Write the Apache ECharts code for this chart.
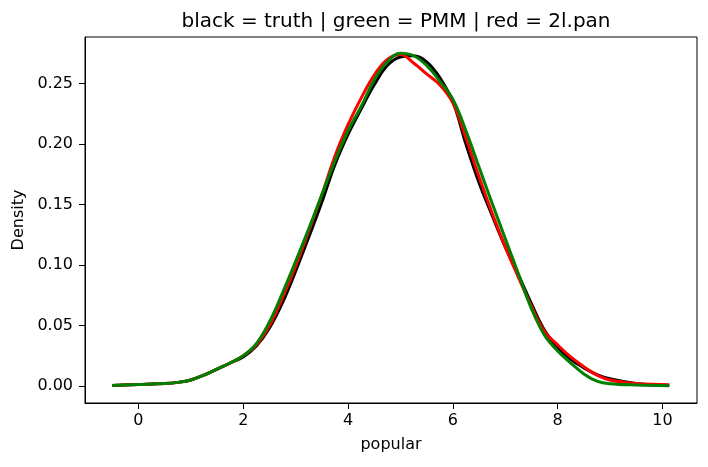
<!DOCTYPE html>
<html>
<head>
<meta charset="utf-8">
<script src="https://cdn.jsdelivr.net/npm/echarts@6/dist/echarts.min.js"></script>
<style>html,body{margin:0;padding:0;background:#fff}#c{width:708px;height:467px}</style>
</head>
<body>
<div id="c"></div>
<script>
const titleText = "black = truth | green = PMM | red = 2l.pan";
const xName = "popular";
const yName = "Density";
const xTicks = [0, 2, 4, 6, 8, 10];
const yTicks = [0, 0.05, 0.10, 0.15, 0.20, 0.25];

const xs = [-0.5, 0, 0.5, 0.75, 1.0, 1.25, 1.5, 1.75, 2.0, 2.25, 2.5, 2.75, 3.0, 3.25, 3.5, 3.75, 4.0, 4.25, 4.5, 4.75, 5.0, 5.25, 5.5, 5.75, 6.0, 6.25, 6.5, 6.75, 7.0, 7.25, 7.5, 7.75, 8.0, 8.25, 8.5, 8.75, 9.0, 9.5, 10.13];

const truth = [0.0005, 0.0012, 0.002, 0.003, 0.005, 0.009, 0.014, 0.019, 0.024, 0.033, 0.048, 0.069, 0.095, 0.123, 0.152, 0.183, 0.208, 0.229, 0.249, 0.265, 0.272, 0.273, 0.268, 0.255, 0.235, 0.200, 0.168, 0.141, 0.115, 0.092, 0.068, 0.046, 0.032, 0.022, 0.015, 0.0095, 0.006, 0.002, 0.0005];

const pmm = [0.0005, 0.0012, 0.002, 0.003, 0.005, 0.009, 0.014, 0.019, 0.025, 0.035, 0.053, 0.077, 0.103, 0.130, 0.158, 0.186, 0.211, 0.231, 0.253, 0.268, 0.275, 0.273, 0.265, 0.252, 0.237, 0.211, 0.181, 0.151, 0.122, 0.093, 0.064, 0.042, 0.029, 0.019, 0.010, 0.004, 0.0018, 0.0008, 0.0003];

const pan = [0.0005, 0.0012, 0.002, 0.003, 0.005, 0.009, 0.014, 0.019, 0.025, 0.034, 0.050, 0.073, 0.099, 0.128, 0.158, 0.190, 0.216, 0.238, 0.257, 0.270, 0.274, 0.267, 0.258, 0.249, 0.234, 0.205, 0.173, 0.143, 0.115, 0.090, 0.066, 0.045, 0.034, 0.024, 0.016, 0.009, 0.005, 0.002, 0.001];

const zip = ys => xs.map((x, i) => [x, ys[i]]);
const font = "DejaVu Sans";

const chart = echarts.init(document.getElementById('c'), null, {renderer: 'canvas'});
chart.setOption({
  animation: false,
  backgroundColor: '#fff',
  title: {
    text: titleText, left: 391, top: 7, textAlign: 'center',
    textStyle: {fontFamily: font, fontSize: 20, fontWeight: 'normal', color: '#000'}
  },
  grid: {left: 85, right: 11, top: 37, bottom: 64, show: true, borderColor: '#000', borderWidth: 1, backgroundColor: 'transparent'},
  xAxis: {
    type: 'value', min: -1.02, max: 10.66,
    name: xName, nameLocation: 'middle', nameGap: 34,
    nameTextStyle: {fontFamily: font, fontSize: 16, color: '#000'},
    axisLine: {show: true, onZero: false, lineStyle: {color: '#000', width: 1}},
    splitLine: {show: false},
    axisTick: {show: true, length: 6, customValues: xTicks, lineStyle: {color: '#000'}},
    axisLabel: {customValues: xTicks, fontFamily: font, fontSize: 16, color: '#000', margin: 10, formatter: v => String(v)}
  },
  yAxis: {
    type: 'value', min: -0.01405, max: 0.2885,
    name: yName, nameLocation: 'middle', nameGap: 58, nameRotate: 90,
    nameTextStyle: {fontFamily: font, fontSize: 16, color: '#000'},
    axisLine: {show: true, onZero: false, lineStyle: {color: '#000', width: 1}},
    splitLine: {show: false},
    axisTick: {show: true, length: 6, customValues: yTicks, lineStyle: {color: '#000'}},
    axisLabel: {customValues: yTicks, fontFamily: font, fontSize: 16, color: '#000', margin: 12, formatter: v => v.toFixed(2)}
  },
  series: [
    {name: 'truth', type: 'line', data: zip(truth), smooth: 0.4, showSymbol: false, lineStyle: {color: '#000000', width: 3}, z: 2},
    {name: '2l.pan', type: 'line', data: zip(pan), smooth: 0.4, showSymbol: false, lineStyle: {color: '#ff0000', width: 3}, z: 3},
    {name: 'PMM', type: 'line', data: zip(pmm), smooth: 0.4, showSymbol: false, lineStyle: {color: '#008000', width: 3}, z: 4}
  ]
});
</script>
</body>
</html>
